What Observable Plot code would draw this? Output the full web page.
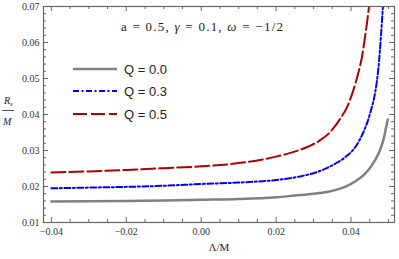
<!DOCTYPE html>
<html><head><meta charset="utf-8">
<script src="https://cdn.jsdelivr.net/npm/d3@7"></script>
<script src="https://cdn.jsdelivr.net/npm/@observablehq/plot@0.6"></script>
<style>
html,body{margin:0;padding:0;background:#fff;}
#wrap{position:relative;width:399px;height:259px;}
#wrap svg{position:absolute;left:0;top:0;}
.serif{font-family:"Liberation Serif","Times New Roman",Times,"DejaVu Serif",serif;}
.sans{font-family:"Liberation Sans",Arial,Helvetica,"DejaVu Sans",sans-serif;}
</style></head>
<body><div id="wrap"></div>
<script>
// Λ/M values and Rs/M values per series
const lamQ0 = [-0.04,-0.03,-0.02,-0.01,0,0.01,0.02,0.025,0.03,0.0335,0.0357,0.0384,0.0411,0.0437,0.0455,0.0473,0.0486,0.0492,0.0498];
const rsQ0  = [0.0158,0.0159,0.0160,0.0161,0.0163,0.0165,0.0170,0.0175,0.0180,0.0185,0.0190,0.0199,0.0214,0.0235,0.0258,0.0291,0.0328,0.0356,0.0386];
const lamQ3 = [-0.04,-0.03,-0.02,-0.01,0,0.01,0.02,0.0264,0.0309,0.0357,0.0384,0.0411,0.0433,0.0445,0.0453,0.0465,0.0473,0.048,0.0485];
const rsQ3  = [0.0195,0.0197,0.0199,0.0202,0.0207,0.0211,0.0218,0.0228,0.0240,0.0263,0.0281,0.0309,0.0351,0.0383,0.0411,0.0465,0.0528,0.0620,0.0700];
const lamQ5 = [-0.04,-0.03,-0.02,-0.01,0,0.01,0.02,0.0264,0.029,0.0317,0.0344,0.0371,0.0389,0.0406,0.042,0.0429,0.0436,0.0442,0.0448];
const rsQ5  = [0.0239,0.0242,0.0246,0.0251,0.0256,0.0265,0.0283,0.0302,0.0313,0.0328,0.0351,0.0388,0.0420,0.0467,0.0518,0.0559,0.0606,0.0650,0.0700];
const seriesNames = ["Q = 0.0","Q = 0.3","Q = 0.5"];
const seriesColors = ["#808080","#0000ff","#b00000"];
const seriesDash = [null,"6,2.5,2,2.5","14,4"];
const seriesWidth = [2.5,2,2];
const xMajor = [-0.04,-0.02,0,0.02,0.04];
const xMinor = [-0.035,-0.03,-0.025,-0.015,-0.01,-0.005,0.005,0.01,0.015,0.025,0.03,0.035,0.045,0.05];
const yMajor = [0.01,0.02,0.03,0.04,0.05,0.06,0.07];
const yMinor = [0.012,0.014,0.016,0.018,0.022,0.024,0.026,0.028,0.032,0.034,0.036,0.038,0.042,0.044,0.046,0.048,0.052,0.054,0.056,0.058,0.062,0.064,0.066,0.068];

const W = 399, H = 259, mL = 43, mR = 5, mT = 6, mB = 37;
const iW = W - mL - mR, iH = H - mT - mB;
const serifFont = '"Liberation Serif","Times New Roman",Times,"DejaVu Serif",serif';
const lams = [lamQ0, lamQ3, lamQ5], rss = [rsQ0, rsQ3, rsQ5];
const data = seriesNames.map((name, i) => lams[i].map((l, j) => ({lam: l, rs: rss[i][j], name})));
const tc = "#666";
const fmt = d3.format(".2f");

const marks = [];
data.forEach((d, i) => {
  marks.push(Plot.line(d, {x: "lam", y: "rs", stroke: seriesColors[i], strokeWidth: seriesWidth[i],
    strokeDasharray: seriesDash[i], curve: "monotone-x", clip: true}));
});
marks.push(
  Plot.tickX(xMajor, {x: d => d, stroke: tc, insetTop: iH - 5}),
  Plot.tickX(xMinor, {x: d => d, stroke: tc, insetTop: iH - 3}),
  Plot.tickX(xMajor, {x: d => d, stroke: tc, insetBottom: iH - 5}),
  Plot.tickX(xMinor, {x: d => d, stroke: tc, insetBottom: iH - 3}),
  Plot.tickY(yMajor, {y: d => d, stroke: tc, insetRight: iW - 5}),
  Plot.tickY(yMinor, {y: d => d, stroke: tc, insetRight: iW - 3}),
  Plot.tickY(yMajor, {y: d => d, stroke: tc, insetLeft: iW - 5}),
  Plot.tickY(yMinor, {y: d => d, stroke: tc, insetLeft: iW - 3}),
  Plot.axisX(xMajor, {tickSize: 0, tickPadding: 5, tickFormat: fmt, label: null,
    fontFamily: serifFont, fontSize: 10, fill: "#333"}),
  Plot.axisY(yMajor, {tickSize: 0, tickPadding: 4, tickFormat: fmt, label: null,
    fontFamily: serifFont, fontSize: 10, fill: "#333"}),
  Plot.frame({stroke: tc, strokeWidth: 1.2})
);

const chart = Plot.plot({
  width: W, height: H,
  marginLeft: mL, marginRight: mR, marginTop: mT, marginBottom: mB,
  x: {domain: [-0.0421, 0.0516]},
  y: {domain: [0.01, 0.07]},
  style: {background: "transparent", overflow: "visible", fontFamily: serifFont},
  marks
});
const wrap = document.getElementById("wrap");
wrap.appendChild(chart);

// overlay: annotation, legend, axis labels
const ns = "http://www.w3.org/2000/svg";
const ov = document.createElementNS(ns, "svg");
ov.setAttribute("width", W); ov.setAttribute("height", H);
ov.style.pointerEvents = "none";
let s = "";
s += `<text class="serif" x="121" y="31" font-size="13" fill="#222" textLength="162" lengthAdjust="spacing">a = 0.5, <tspan font-style="italic">γ</tspan> = 0.1, <tspan font-style="italic">ω</tspan> = −1/2</text>`;
const legY = [69, 91, 114];
seriesNames.forEach((n, i) => {
  s += `<line x1="73" x2="117" y1="${legY[i]}" y2="${legY[i]}" stroke="${seriesColors[i]}" stroke-width="${seriesWidth[i]}" ${seriesDash[i] ? `stroke-dasharray="${seriesDash[i]}"` : ""}/>`;
  s += `<text class="sans" x="124" y="${legY[i]}" dy="0.35em" font-size="13" fill="#222">${n}</text>`;
});
s += `<text class="serif" x="219" y="251" text-anchor="middle" font-size="11" fill="#222">Λ/M</text>`;
s += `<text class="serif" x="4" y="104" font-style="italic" font-size="10" fill="#222">R<tspan font-size="7" dy="2">s</tspan></text>`;
s += `<line x1="2" x2="14" y1="110.5" y2="110.5" stroke="#222" stroke-width="0.8"/>`;
s += `<text class="serif" x="3" y="125" font-style="italic" font-size="10" fill="#222">M</text>`;
ov.innerHTML = s;
wrap.appendChild(ov);
</script></body></html>
